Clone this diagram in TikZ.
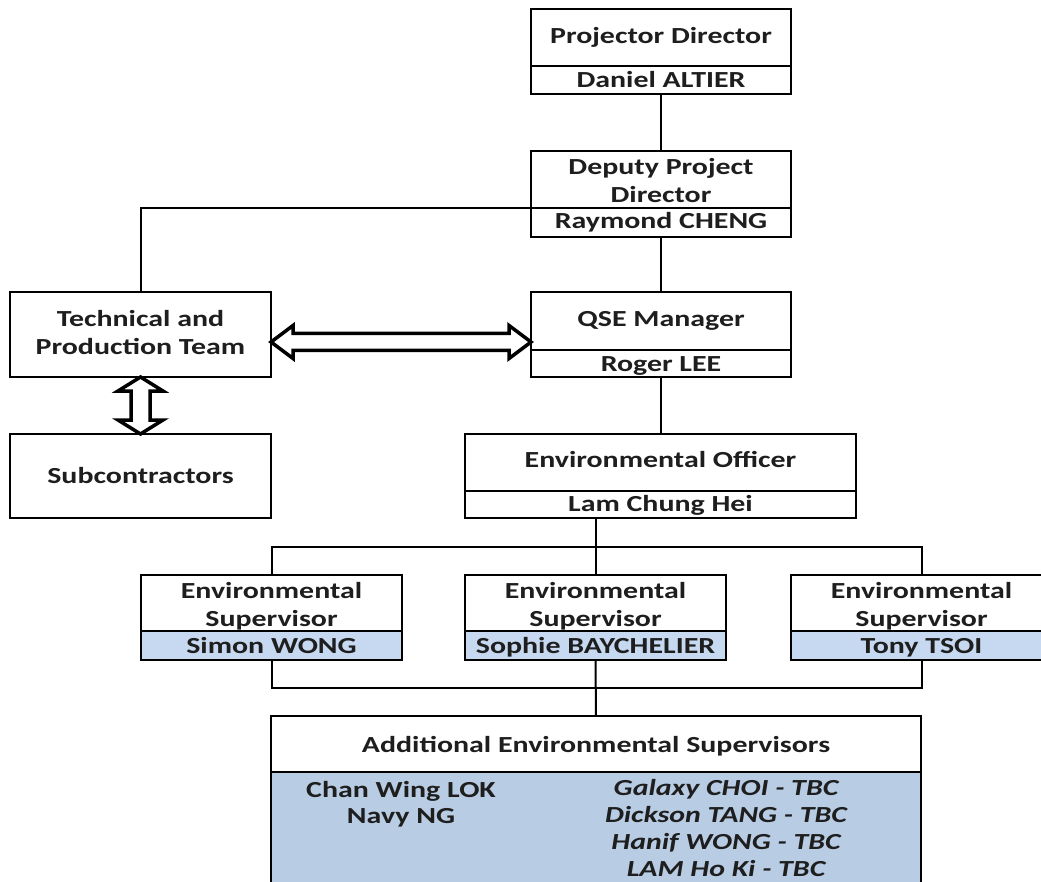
\documentclass[tikz,border=0pt]{standalone}
\usepackage{fontspec}
\newfontfamily\cf{Carlito}[FakeStretch=1.3]
\usetikzlibrary{calc}
\definecolor{tcol}{HTML}{1E1E1E}
\definecolor{esfill}{HTML}{C6D9F1}
\definecolor{adfill}{HTML}{B8CCE4}
\begin{document}
\begin{tikzpicture}[x=1pt,y=-1pt,
  box/.style={draw, line width=2pt, rectangle, inner sep=0pt, outer sep=0pt, fill=white},
  namebox/.style={box, fill=esfill},
  txt/.style={anchor=base, inner sep=0pt, text=tcol, font=\cf\bfseries\fontsize{23}{28}\selectfont},
  itxt/.style={txt, font=\cf\bfseries\itshape\fontsize{23}{28}\selectfont},
  conn/.style={line width=2pt},
  harrow/.style={draw, line width=3.5pt, fill=white, line join=miter}]
\clip (0,0) rectangle (1041,882);
\fill[white] (0,0) rectangle (1041,882);

% boxes
\node[box, minimum width=260pt, minimum height=57pt] (pdT) at (661,37.5) {};
\node[box, minimum width=260pt, minimum height=28pt] (pdN) at (661,80) {};
\node[box, minimum width=260pt, minimum height=57pt] (dpT) at (661,179.5) {};
\node[box, minimum width=260pt, minimum height=29pt] (dpN) at (661,222.5) {};
\node[box, minimum width=261pt, minimum height=85pt] (tech) at (140.5,334.5) {};
\node[box, minimum width=260pt, minimum height=58pt] (qT) at (661,321) {};
\node[box, minimum width=260pt, minimum height=27pt] (qN) at (661,363.5) {};
\node[box, minimum width=261pt, minimum height=84pt] (sub) at (140.5,476) {};
\node[box, minimum width=391pt, minimum height=57pt] (eT) at (660.5,462.5) {};
\node[box, minimum width=391pt, minimum height=27pt] (eN) at (660.5,504.5) {};
\node[box, minimum width=261pt, minimum height=56pt] (esLT) at (271.5,603) {};
\node[namebox, minimum width=261pt, minimum height=29pt] (esLN) at (271.5,645.5) {};
\node[box, minimum width=261pt, minimum height=56pt] (esMT) at (595.5,603) {};
\node[namebox, minimum width=261pt, minimum height=29pt] (esMN) at (595.5,645.5) {};
\node[box, minimum width=261pt, minimum height=56pt] (esRT) at (921.5,603) {};
\node[namebox, minimum width=261pt, minimum height=29pt] (esRN) at (921.5,645.5) {};
\node[box, minimum width=650pt, minimum height=56pt] (aT) at (596,744) {};
\node[box, fill=adfill, minimum width=650pt, minimum height=130pt] (aN) at (596,837) {};

% texts
\node[txt] (t1) at (661,44) {Projector Director};
\node[txt] (t2) at (661,88) {Daniel ALTIER};
\node[txt] (t3) at (661,175) {Deputy Project};
\node[txt] (t4) at (661,203) {Director};
\node[txt] (t5) at (661,229) {Raymond CHENG};
\node[txt] (t6) at (140.5,327) {Technical and};
\node[txt] (t7) at (140.5,355) {Production Team};
\node[txt] (t8) at (661,327) {QSE Manager};
\node[txt] (t9) at (661,371) {Roger LEE};
\node[txt] (t10) at (140.5,483) {Subcontractors};
\node[txt] (t11) at (660.5,467) {Environmental Officer};
\node[txt] (t12) at (660.5,511) {Lam Chung Hei};
\foreach \x/\n/\nm in {271.5/L/Simon WONG, 595.5/M/Sophie BAYCHELIER, 921.5/R/Tony TSOI}{
  \node[txt] (e1\n) at (\x,598) {Environmental};
  \node[txt] (e2\n) at (\x,626) {Supervisor};
  \node[txt] (e3\n) at (\x,653) {\nm};
}
\node[txt] (a0) at (596,752) {Additional Environmental Supervisors};
\node[txt] (a1) at (401,797) {Chan Wing LOK};
\node[txt] (a2) at (401,823) {Navy NG};
\node[itxt] (a3) at (726,795) {Galaxy CHOI - TBC};
\node[itxt] (a4) at (726,822) {Dickson TANG - TBC};
\node[itxt] (a5) at (726,849) {Hanif WONG - TBC};
\node[itxt] (a6) at (726,876) {LAM Ho Ki - TBC};

% connectors
\draw[conn] (pdN.south) -- (dpT.north);
\draw[conn] (dpN.north west) -| (tech.north);
\draw[conn] (dpN.south) -- (qT.north);
\draw[conn] (qN.south) -- (qN.south |- eT.north);
\coordinate (j1) at (595.5,547);
\coordinate (j2) at (595.5,688);
\draw[conn] (eN.south -| j1) -- (esMT.north);
\draw[conn] (esLT.north) |- (j1) -| (esRT.north);
\draw[conn] (esLN.south) |- (j2) -| (esRN.south);
\draw[conn] (esMN.south) -- (aT.north);

% hollow double arrows
\coordinate (hl) at (tech.east |- 0,342);
\coordinate (hr) at (qT.west |- 0,342);
\draw[harrow] (hl) -- ++(22,-16.5) -- ++(0,8) -- ($(hr)+(-22,-8.5)$) -- ++(0,-8)
  -- (hr) -- ++(-22,16.5) -- ++(0,-8) -- ($(hl)+(22,8.5)$) -- ++(0,8) -- cycle;
\coordinate (vt) at (tech.south);
\coordinate (vb) at (sub.north);
\draw[harrow] (vt) -- ++(22.5,14) -- ++(-13,0) -- ($(vb)+(9.5,-14)$) -- ++(13,0)
  -- (vb) -- ++(-22.5,-14) -- ++(13,0) -- ($(vt)+(-9.5,14)$) -- ++(-13,0) -- cycle;
\end{tikzpicture}
\end{document}
